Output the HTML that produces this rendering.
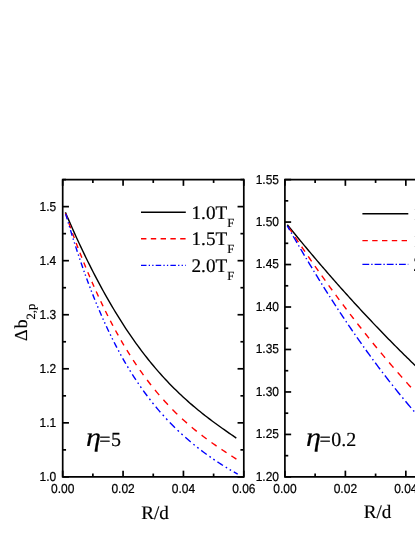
<!DOCTYPE html>
<html><head><meta charset="utf-8"><title>chart</title>
<style>html,body{margin:0;padding:0;background:#fff;}svg{display:block;transform:translateZ(0);will-change:transform}</style></head>
<body><svg width="415" height="537" viewBox="0 0 415 537" text-rendering="geometricPrecision">
<path d="M62.70,179.60 L243.80,179.60 M62.70,476.90 L243.80,476.90 M62.70,178.75 L62.70,477.75" stroke="#000" stroke-width="1.7" fill="none"/>
<line x1="243.80" y1="178.75" x2="243.80" y2="477.75" stroke="#000" stroke-width="1.7" />
<line x1="62.70" y1="476.90" x2="68.95" y2="476.90" stroke="#000" stroke-width="1.7" />
<line x1="243.80" y1="476.90" x2="237.55" y2="476.90" stroke="#000" stroke-width="1.7" />
<text transform="translate(56.20,480.85) scale(1,1.08)" font-family="Liberation Sans, sans-serif" font-size="12.0" text-anchor="end" stroke="#000" stroke-width="0.2" >1.0</text>
<line x1="62.70" y1="449.87" x2="66.05" y2="449.87" stroke="#000" stroke-width="1.7" />
<line x1="243.80" y1="449.87" x2="240.45" y2="449.87" stroke="#000" stroke-width="1.7" />
<line x1="62.70" y1="422.85" x2="68.95" y2="422.85" stroke="#000" stroke-width="1.7" />
<line x1="243.80" y1="422.85" x2="237.55" y2="422.85" stroke="#000" stroke-width="1.7" />
<text transform="translate(56.20,426.80) scale(1,1.08)" font-family="Liberation Sans, sans-serif" font-size="12.0" text-anchor="end" stroke="#000" stroke-width="0.2" >1.1</text>
<line x1="62.70" y1="395.82" x2="66.05" y2="395.82" stroke="#000" stroke-width="1.7" />
<line x1="243.80" y1="395.82" x2="240.45" y2="395.82" stroke="#000" stroke-width="1.7" />
<line x1="62.70" y1="368.79" x2="68.95" y2="368.79" stroke="#000" stroke-width="1.7" />
<line x1="243.80" y1="368.79" x2="237.55" y2="368.79" stroke="#000" stroke-width="1.7" />
<text transform="translate(56.20,372.74) scale(1,1.08)" font-family="Liberation Sans, sans-serif" font-size="12.0" text-anchor="end" stroke="#000" stroke-width="0.2" >1.2</text>
<line x1="62.70" y1="341.76" x2="66.05" y2="341.76" stroke="#000" stroke-width="1.7" />
<line x1="243.80" y1="341.76" x2="240.45" y2="341.76" stroke="#000" stroke-width="1.7" />
<line x1="62.70" y1="314.74" x2="68.95" y2="314.74" stroke="#000" stroke-width="1.7" />
<line x1="243.80" y1="314.74" x2="237.55" y2="314.74" stroke="#000" stroke-width="1.7" />
<text transform="translate(56.20,318.69) scale(1,1.08)" font-family="Liberation Sans, sans-serif" font-size="12.0" text-anchor="end" stroke="#000" stroke-width="0.2" >1.3</text>
<line x1="62.70" y1="287.71" x2="66.05" y2="287.71" stroke="#000" stroke-width="1.7" />
<line x1="243.80" y1="287.71" x2="240.45" y2="287.71" stroke="#000" stroke-width="1.7" />
<line x1="62.70" y1="260.68" x2="68.95" y2="260.68" stroke="#000" stroke-width="1.7" />
<line x1="243.80" y1="260.68" x2="237.55" y2="260.68" stroke="#000" stroke-width="1.7" />
<text transform="translate(56.20,264.63) scale(1,1.08)" font-family="Liberation Sans, sans-serif" font-size="12.0" text-anchor="end" stroke="#000" stroke-width="0.2" >1.4</text>
<line x1="62.70" y1="233.65" x2="66.05" y2="233.65" stroke="#000" stroke-width="1.7" />
<line x1="243.80" y1="233.65" x2="240.45" y2="233.65" stroke="#000" stroke-width="1.7" />
<line x1="62.70" y1="206.63" x2="68.95" y2="206.63" stroke="#000" stroke-width="1.7" />
<line x1="243.80" y1="206.63" x2="237.55" y2="206.63" stroke="#000" stroke-width="1.7" />
<text transform="translate(56.20,210.58) scale(1,1.08)" font-family="Liberation Sans, sans-serif" font-size="12.0" text-anchor="end" stroke="#000" stroke-width="0.2" >1.5</text>
<line x1="62.70" y1="179.60" x2="66.05" y2="179.60" stroke="#000" stroke-width="1.7" />
<line x1="243.80" y1="179.60" x2="240.45" y2="179.60" stroke="#000" stroke-width="1.7" />
<line x1="62.70" y1="476.90" x2="62.70" y2="470.65" stroke="#000" stroke-width="1.7" />
<line x1="62.70" y1="179.60" x2="62.70" y2="185.85" stroke="#000" stroke-width="1.7" />
<text transform="translate(62.70,492.90) scale(1,1.08)" font-family="Liberation Sans, sans-serif" font-size="12.0" text-anchor="middle" stroke="#000" stroke-width="0.2" >0.00</text>
<line x1="92.88" y1="476.90" x2="92.88" y2="473.55" stroke="#000" stroke-width="1.7" />
<line x1="92.88" y1="179.60" x2="92.88" y2="182.95" stroke="#000" stroke-width="1.7" />
<line x1="123.07" y1="476.90" x2="123.07" y2="470.65" stroke="#000" stroke-width="1.7" />
<line x1="123.07" y1="179.60" x2="123.07" y2="185.85" stroke="#000" stroke-width="1.7" />
<text transform="translate(123.07,492.90) scale(1,1.08)" font-family="Liberation Sans, sans-serif" font-size="12.0" text-anchor="middle" stroke="#000" stroke-width="0.2" >0.02</text>
<line x1="153.25" y1="476.90" x2="153.25" y2="473.55" stroke="#000" stroke-width="1.7" />
<line x1="153.25" y1="179.60" x2="153.25" y2="182.95" stroke="#000" stroke-width="1.7" />
<line x1="183.43" y1="476.90" x2="183.43" y2="470.65" stroke="#000" stroke-width="1.7" />
<line x1="183.43" y1="179.60" x2="183.43" y2="185.85" stroke="#000" stroke-width="1.7" />
<text transform="translate(183.43,492.90) scale(1,1.08)" font-family="Liberation Sans, sans-serif" font-size="12.0" text-anchor="middle" stroke="#000" stroke-width="0.2" >0.04</text>
<line x1="213.62" y1="476.90" x2="213.62" y2="473.55" stroke="#000" stroke-width="1.7" />
<line x1="213.62" y1="179.60" x2="213.62" y2="182.95" stroke="#000" stroke-width="1.7" />
<line x1="243.80" y1="476.90" x2="243.80" y2="470.65" stroke="#000" stroke-width="1.7" />
<line x1="243.80" y1="179.60" x2="243.80" y2="185.85" stroke="#000" stroke-width="1.7" />
<text transform="translate(243.80,492.90) scale(1,1.08)" font-family="Liberation Sans, sans-serif" font-size="12.0" text-anchor="middle" stroke="#000" stroke-width="0.2" >0.06</text>
<path d="M284.90,179.60 L420.00,179.60 M284.90,476.90 L420.00,476.90 M284.90,178.75 L284.90,477.75" stroke="#000" stroke-width="1.7" fill="none"/>
<line x1="284.90" y1="476.90" x2="291.15" y2="476.90" stroke="#000" stroke-width="1.7" />
<text transform="translate(279.00,480.85) scale(1,1.08)" font-family="Liberation Sans, sans-serif" font-size="12.0" text-anchor="end" stroke="#000" stroke-width="0.2" >1.20</text>
<line x1="284.90" y1="455.66" x2="288.25" y2="455.66" stroke="#000" stroke-width="1.7" />
<line x1="284.90" y1="434.43" x2="291.15" y2="434.43" stroke="#000" stroke-width="1.7" />
<text transform="translate(279.00,438.38) scale(1,1.08)" font-family="Liberation Sans, sans-serif" font-size="12.0" text-anchor="end" stroke="#000" stroke-width="0.2" >1.25</text>
<line x1="284.90" y1="413.19" x2="288.25" y2="413.19" stroke="#000" stroke-width="1.7" />
<line x1="284.90" y1="391.96" x2="291.15" y2="391.96" stroke="#000" stroke-width="1.7" />
<text transform="translate(279.00,395.91) scale(1,1.08)" font-family="Liberation Sans, sans-serif" font-size="12.0" text-anchor="end" stroke="#000" stroke-width="0.2" >1.30</text>
<line x1="284.90" y1="370.72" x2="288.25" y2="370.72" stroke="#000" stroke-width="1.7" />
<line x1="284.90" y1="349.49" x2="291.15" y2="349.49" stroke="#000" stroke-width="1.7" />
<text transform="translate(279.00,353.44) scale(1,1.08)" font-family="Liberation Sans, sans-serif" font-size="12.0" text-anchor="end" stroke="#000" stroke-width="0.2" >1.35</text>
<line x1="284.90" y1="328.25" x2="288.25" y2="328.25" stroke="#000" stroke-width="1.7" />
<line x1="284.90" y1="307.01" x2="291.15" y2="307.01" stroke="#000" stroke-width="1.7" />
<text transform="translate(279.00,310.96) scale(1,1.08)" font-family="Liberation Sans, sans-serif" font-size="12.0" text-anchor="end" stroke="#000" stroke-width="0.2" >1.40</text>
<line x1="284.90" y1="285.78" x2="288.25" y2="285.78" stroke="#000" stroke-width="1.7" />
<line x1="284.90" y1="264.54" x2="291.15" y2="264.54" stroke="#000" stroke-width="1.7" />
<text transform="translate(279.00,268.49) scale(1,1.08)" font-family="Liberation Sans, sans-serif" font-size="12.0" text-anchor="end" stroke="#000" stroke-width="0.2" >1.45</text>
<line x1="284.90" y1="243.31" x2="288.25" y2="243.31" stroke="#000" stroke-width="1.7" />
<line x1="284.90" y1="222.07" x2="291.15" y2="222.07" stroke="#000" stroke-width="1.7" />
<text transform="translate(279.00,226.02) scale(1,1.08)" font-family="Liberation Sans, sans-serif" font-size="12.0" text-anchor="end" stroke="#000" stroke-width="0.2" >1.50</text>
<line x1="284.90" y1="200.84" x2="288.25" y2="200.84" stroke="#000" stroke-width="1.7" />
<line x1="284.90" y1="179.60" x2="291.15" y2="179.60" stroke="#000" stroke-width="1.7" />
<text transform="translate(279.00,183.55) scale(1,1.08)" font-family="Liberation Sans, sans-serif" font-size="12.0" text-anchor="end" stroke="#000" stroke-width="0.2" >1.55</text>
<line x1="284.90" y1="476.90" x2="284.90" y2="470.65" stroke="#000" stroke-width="1.7" />
<line x1="284.90" y1="179.60" x2="284.90" y2="185.85" stroke="#000" stroke-width="1.7" />
<text transform="translate(284.90,492.90) scale(1,1.08)" font-family="Liberation Sans, sans-serif" font-size="12.0" text-anchor="middle" stroke="#000" stroke-width="0.2" >0.00</text>
<line x1="315.13" y1="476.90" x2="315.13" y2="473.55" stroke="#000" stroke-width="1.7" />
<line x1="315.13" y1="179.60" x2="315.13" y2="182.95" stroke="#000" stroke-width="1.7" />
<line x1="345.37" y1="476.90" x2="345.37" y2="470.65" stroke="#000" stroke-width="1.7" />
<line x1="345.37" y1="179.60" x2="345.37" y2="185.85" stroke="#000" stroke-width="1.7" />
<text transform="translate(345.37,492.90) scale(1,1.08)" font-family="Liberation Sans, sans-serif" font-size="12.0" text-anchor="middle" stroke="#000" stroke-width="0.2" >0.02</text>
<line x1="375.60" y1="476.90" x2="375.60" y2="473.55" stroke="#000" stroke-width="1.7" />
<line x1="375.60" y1="179.60" x2="375.60" y2="182.95" stroke="#000" stroke-width="1.7" />
<line x1="405.83" y1="476.90" x2="405.83" y2="470.65" stroke="#000" stroke-width="1.7" />
<line x1="405.83" y1="179.60" x2="405.83" y2="185.85" stroke="#000" stroke-width="1.7" />
<text transform="translate(405.83,492.90) scale(1,1.08)" font-family="Liberation Sans, sans-serif" font-size="12.0" text-anchor="middle" stroke="#000" stroke-width="0.2" >0.04</text>
<path d="M65.40,212.37 L67.13,216.41 L68.85,220.40 L70.58,224.34 L72.31,228.25 L74.03,232.11 L75.76,235.93 L77.48,239.70 L79.21,243.43 L80.94,247.12 L82.66,250.77 L84.39,254.37 L86.12,257.94 L87.84,261.45 L89.57,264.93 L91.29,268.37 L93.02,271.76 L94.75,275.11 L96.47,278.42 L98.20,281.69 L99.93,284.91 L101.65,288.10 L103.38,291.24 L105.10,294.35 L106.83,297.41 L108.56,300.43 L110.28,303.42 L112.01,306.36 L113.74,309.26 L115.46,312.13 L117.19,314.95 L118.91,317.74 L120.64,320.49 L122.37,323.20 L124.09,325.87 L125.82,328.51 L127.55,331.10 L129.27,333.66 L131.00,336.19 L132.73,338.67 L134.45,341.12 L136.18,343.54 L137.90,345.92 L139.63,348.26 L141.36,350.57 L143.08,352.85 L144.81,355.09 L146.54,357.30 L148.26,359.48 L149.99,361.62 L151.71,363.73 L153.44,365.81 L155.17,367.85 L156.89,369.87 L158.62,371.85 L160.35,373.81 L162.07,375.73 L163.80,377.63 L165.52,379.50 L167.25,381.34 L168.98,383.15 L170.70,384.93 L172.43,386.69 L174.16,388.42 L175.88,390.12 L177.61,391.80 L179.33,393.46 L181.06,395.09 L182.79,396.69 L184.51,398.28 L186.24,399.84 L187.97,401.38 L189.69,402.90 L191.42,404.39 L193.15,405.87 L194.87,407.33 L196.60,408.76 L198.32,410.18 L200.05,411.58 L201.78,412.97 L203.50,414.34 L205.23,415.69 L206.96,417.02 L208.68,418.34 L210.41,419.65 L212.13,420.95 L213.86,422.23 L215.59,423.50 L217.31,424.76 L219.04,426.01 L220.77,427.24 L222.49,428.47 L224.22,429.69 L225.94,430.91 L227.67,432.11 L229.40,433.31 L231.12,434.51 L232.85,435.70 L234.58,436.88 L236.30,438.07" stroke="#000" stroke-width="1.4" fill="none"/>
<path d="M65.49,213.36 L67.20,218.31 L67.20,218.31 M68.94,223.27 L70.66,228.08 L70.72,228.24 M72.49,233.12 L74.21,237.78 L74.32,238.09 M76.15,242.98 L77.86,247.49 L78.04,247.94 M79.89,252.74 L81.61,257.10 L81.84,257.68 M83.78,262.53 L85.50,266.74 L85.78,267.44 M87.78,272.26 L89.50,276.32 L89.84,277.13 M91.90,281.90 L93.62,285.81 L94.05,286.78 M96.19,291.56 L97.90,295.31 L98.45,296.49 M100.71,301.32 L102.42,304.92 L103.05,306.22 M105.39,311.01 L107.11,314.45 L107.88,315.98 M110.34,320.78 L112.06,324.06 L112.94,325.73 M115.51,330.50 L117.23,333.61 L118.26,335.46 M121.03,340.33 L122.75,343.28 L123.95,345.31 M126.86,350.14 L128.58,352.92 L130.01,355.20 M133.13,360.05 L134.84,362.65 L136.47,365.09 M139.87,370.03 L141.59,372.46 L143.30,374.85 L143.47,375.08 M147.13,380.02 L148.85,382.27 L150.56,384.48 L151.05,385.10 M155.00,390.01 L156.71,392.08 L158.43,394.11 L159.23,395.05 M163.43,399.84 L165.14,401.74 L166.86,403.60 L167.95,404.76 M172.46,409.46 L174.18,411.18 L175.89,412.88 L177.29,414.24 M182.01,418.70 L183.73,420.26 L185.44,421.81 L186.96,423.15 M191.76,427.27 L193.47,428.70 L195.19,430.10 L196.76,431.38 M201.59,435.17 L203.31,436.48 L205.02,437.77 L206.65,438.99 M211.51,442.51 L213.23,443.73 L214.94,444.93 L216.60,446.08 M221.49,449.40 L223.21,450.54 L224.92,451.67 L226.55,452.74 M231.41,455.88 L233.13,456.98 L234.84,458.07 L236.41,459.06" stroke="#ff0000" stroke-width="1.4" fill="none"/>
<path d="M65.72,213.94 L67.30,219.38 M68.13,222.21 L68.50,223.47 M69.28,226.07 L69.68,227.40 M70.51,230.16 L72.21,235.67 M73.07,238.44 L73.47,239.72 M74.30,242.35 L74.71,243.62 M75.60,246.39 L77.32,251.68 L77.38,251.85 M78.27,254.54 L78.70,255.83 M79.59,258.48 L80.02,259.75 M80.97,262.53 L82.69,267.49 L82.83,267.90 M83.81,270.67 L84.27,271.96 M85.19,274.52 L85.65,275.79 M86.65,278.54 L88.38,283.18 L88.64,283.87 M89.67,286.60 L90.16,287.88 M91.13,290.42 L91.62,291.67 M92.69,294.38 L94.41,298.70 L94.84,299.77 M95.93,302.45 L96.48,303.78 M97.54,306.33 L98.09,307.63 M99.23,310.34 L100.96,314.34 L101.56,315.72 M102.77,318.45 L103.34,319.74 M104.49,322.28 L105.09,323.61 M106.33,326.28 L108.05,329.96 L108.88,331.70 M110.18,334.38 L110.84,335.73 M112.07,338.23 L112.73,339.56 M114.11,342.28 L115.83,345.63 L116.90,347.66 M118.33,350.36 L119.05,351.69 M120.46,354.27 L121.18,355.57 M122.70,358.29 L124.42,361.31 L125.83,363.73 M127.44,366.44 L128.24,367.78 M129.79,370.33 L130.63,371.68 M132.32,374.38 L134.04,377.07 L135.77,379.71 L135.88,379.89 M137.69,382.60 L138.61,383.95 M140.36,386.50 L141.31,387.85 M143.26,390.60 L144.99,392.97 L146.71,395.29 L147.31,396.09 M149.38,398.80 L150.44,400.17 M152.45,402.72 L153.55,404.07 M155.76,406.77 L157.48,408.83 L159.20,410.85 L160.35,412.18 M162.71,414.84 L163.89,416.15 M166.13,418.59 L167.36,419.91 M169.83,422.50 L171.55,424.27 L173.28,426.00 L175.00,427.71 L175.00,427.71 M177.59,430.21 L178.91,431.46 M181.38,433.76 L182.67,434.94 M185.31,437.31 L187.04,438.82 L188.76,440.30 L190.48,441.77 L190.71,441.96 M193.38,444.17 L194.70,445.25 M197.23,447.27 L198.58,448.33 M201.25,450.39 L202.98,451.69 L204.70,452.97 L206.42,454.23 L206.74,454.46 M209.44,456.40 L210.79,457.35 M213.34,459.12 L214.72,460.06 M217.45,461.88 L219.17,463.01 L220.90,464.13 L222.62,465.23 L222.99,465.46 M225.72,467.16 L227.10,468.01 M229.69,469.57 L231.04,470.37 M233.79,471.97 L235.52,472.96 L237.24,473.93 L237.70,474.18" stroke="#0000ff" stroke-width="1.4" fill="none"/>
<path d="M287.30,224.70 L288.73,226.47 L290.15,228.23 L291.58,229.98 L293.01,231.74 L294.44,233.48 L295.86,235.23 L297.29,236.96 L298.72,238.70 L300.15,240.43 L301.57,242.15 L303.00,243.87 L304.43,245.59 L305.85,247.30 L307.28,249.01 L308.71,250.71 L310.14,252.41 L311.56,254.11 L312.99,255.80 L314.42,257.48 L315.84,259.17 L317.27,260.84 L318.70,262.52 L320.13,264.18 L321.55,265.85 L322.98,267.51 L324.41,269.16 L325.84,270.82 L327.26,272.46 L328.69,274.10 L330.12,275.74 L331.54,277.38 L332.97,279.01 L334.40,280.63 L335.83,282.25 L337.25,283.87 L338.68,285.48 L340.11,287.09 L341.54,288.69 L342.96,290.29 L344.39,291.88 L345.82,293.47 L347.24,295.06 L348.67,296.64 L350.10,298.22 L351.53,299.79 L352.95,301.36 L354.38,302.92 L355.81,304.48 L357.23,306.04 L358.66,307.59 L360.09,309.13 L361.52,310.68 L362.94,312.21 L364.37,313.75 L365.80,315.28 L367.23,316.80 L368.65,318.32 L370.08,319.84 L371.51,321.35 L372.93,322.86 L374.36,324.36 L375.79,325.86 L377.22,327.35 L378.64,328.84 L380.07,330.33 L381.50,331.81 L382.92,333.28 L384.35,334.76 L385.78,336.22 L387.21,337.69 L388.63,339.15 L390.06,340.60 L391.49,342.05 L392.92,343.50 L394.34,344.94 L395.77,346.38 L397.20,347.81 L398.62,349.24 L400.05,350.66 L401.48,352.08 L402.91,353.50 L404.33,354.91 L405.76,356.32 L407.19,357.72 L408.62,359.12 L410.04,360.51 L411.47,361.90 L412.90,363.29 L414.32,364.67 L415.75,366.04 L417.18,367.41 L418.61,368.78 L420.03,370.14 L421.46,371.50 L422.89,372.86 L424.31,374.21 L425.74,375.55 L427.17,376.90 L428.60,378.23" stroke="#000" stroke-width="1.4" fill="none"/>
<path d="M288.68,227.38 L290.11,229.55 L291.53,231.70 L291.96,232.35 M295.10,237.06 L296.53,239.20 L297.96,241.32 L298.43,242.03 M301.62,246.74 L303.05,248.84 L304.47,250.93 L305.00,251.70 M308.23,256.41 L309.66,258.48 L311.09,260.54 L311.66,261.36 M314.94,266.07 L316.37,268.10 L317.80,270.13 L318.41,271.01 M321.74,275.70 L323.17,277.70 L324.60,279.70 L325.29,280.66 M328.67,285.34 L330.09,287.31 L331.52,289.27 L332.23,290.25 M335.68,294.95 L337.11,296.88 L338.54,298.80 L339.30,299.83 M342.80,304.51 L344.22,306.40 L345.65,308.29 L346.48,309.39 M350.03,314.05 L351.45,315.91 L352.88,317.77 L353.79,318.94 M357.42,323.63 L358.85,325.45 L360.28,327.27 L361.28,328.54 M365.01,333.25 L366.44,335.04 L367.87,336.82 L368.99,338.21 M372.82,342.94 L374.24,344.69 L375.67,346.44 L376.91,347.94 M380.86,352.71 L382.28,354.42 L383.71,356.13 L385.07,357.74 M389.13,362.54 L390.56,364.21 L391.99,365.87 L393.42,367.53 L393.46,367.58 M397.65,372.40 L399.08,374.03 L400.50,375.65 L401.93,377.26 L402.12,377.48 M406.40,382.28 L407.83,383.86 L409.26,385.44 L410.68,387.01 L410.97,387.32 M415.35,392.09 L416.77,393.64 L418.20,395.17 L419.63,396.70 L420.01,397.10 M424.46,401.81 L425.88,403.31 L427.31,404.80 L428.74,406.28 L429.22,406.78" stroke="#ff0000" stroke-width="1.4" fill="none"/>
<path d="M287.30,225.86 L288.73,228.38 L289.68,230.06 M291.13,232.60 L291.80,233.77 M293.22,236.26 L294.65,238.74 L296.08,241.21 L297.01,242.81 M298.48,245.34 L299.15,246.48 M300.62,249.00 L302.05,251.43 L303.48,253.85 L304.47,255.54 M305.95,258.02 L306.66,259.22 M308.16,261.72 L309.59,264.10 L311.02,266.47 L312.09,268.23 M313.61,270.74 L314.32,271.91 M315.84,274.40 L317.27,276.72 L318.70,279.04 L319.84,280.88 M321.41,283.41 L322.12,284.55 M323.69,287.06 L325.12,289.33 L326.55,291.59 L327.79,293.54 M329.38,296.04 L330.12,297.19 M331.73,299.71 L333.16,301.93 L334.59,304.13 L335.90,306.14 M337.54,308.66 L338.30,309.82 M339.92,312.27 L341.34,314.43 L342.77,316.58 L344.20,318.72 L344.20,318.72 M345.86,321.20 L346.65,322.37 M348.31,324.83 L349.74,326.93 L351.17,329.02 L352.60,331.10 L352.72,331.27 M354.43,333.75 L355.21,334.89 M356.95,337.38 L358.38,339.42 L359.80,341.45 L361.23,343.47 L361.49,343.84 M363.28,346.35 L364.11,347.52 M365.89,350.00 L367.32,351.98 L368.75,353.95 L370.17,355.91 L370.63,356.53 M372.48,359.06 L373.34,360.22 M375.22,362.75 L376.65,364.67 L378.07,366.57 L379.50,368.47 L380.12,369.28 M382.04,371.82 L382.95,373.00 M384.90,375.55 L386.33,377.39 L387.75,379.23 L389.18,381.06 L390.01,382.12 M392.04,384.69 L392.96,385.86 M394.99,388.39 L396.41,390.17 L397.84,391.94 L399.27,393.70 L400.34,395.01 M402.43,397.56 L403.41,398.74 M405.52,401.29 L406.95,402.99 L408.38,404.69 L409.80,406.38 L411.04,407.83 M413.21,410.35 L414.21,411.51 M416.39,414.03 L417.82,415.66 L419.25,417.28 L420.68,418.89 L422.10,420.49 L422.10,420.49 M424.31,422.96 L425.36,424.11 M427.60,426.57 L429.02,428.12 L430.00,429.18" stroke="#0000ff" stroke-width="1.4" fill="none"/>
<line x1="141.00" y1="212.20" x2="185.80" y2="212.20" stroke="#000" stroke-width="1.35" />
<text x="191.50" y="218.80" font-family="Liberation Serif, serif" stroke="#000" stroke-width="0.18" font-size="19.2">1.0T<tspan font-size="12.6" dy="7.7">F</tspan></text>
<line x1="141.00" y1="238.70" x2="185.80" y2="238.70" stroke="#ff0000" stroke-width="1.35" stroke-dasharray="5.4 4.4"/>
<text x="191.50" y="245.30" font-family="Liberation Serif, serif" stroke="#000" stroke-width="0.18" font-size="19.2">1.5T<tspan font-size="12.6" dy="7.7">F</tspan></text>
<line x1="141.00" y1="265.40" x2="185.80" y2="265.40" stroke="#0000ff" stroke-width="1.35" stroke-dasharray="5.5 2.2 1.3 2.2 1.3 2.2"/>
<text x="191.50" y="272.00" font-family="Liberation Serif, serif" stroke="#000" stroke-width="0.18" font-size="19.2">2.0T<tspan font-size="12.6" dy="7.7">F</tspan></text>
<line x1="362.40" y1="213.70" x2="408.30" y2="213.70" stroke="#000" stroke-width="1.35" />
<text x="413.20" y="220.30" font-family="Liberation Serif, serif" stroke="#000" stroke-width="0.18" font-size="19.2">1.0T<tspan font-size="12.6" dy="7.7">F</tspan></text>
<line x1="362.40" y1="240.60" x2="408.30" y2="240.60" stroke="#ff0000" stroke-width="1.35" stroke-dasharray="5.4 4.4"/>
<text x="413.20" y="247.20" font-family="Liberation Serif, serif" stroke="#000" stroke-width="0.18" font-size="19.2">1.5T<tspan font-size="12.6" dy="7.7">F</tspan></text>
<line x1="362.40" y1="264.40" x2="408.30" y2="264.40" stroke="#0000ff" stroke-width="1.35" stroke-dasharray="6.8 2 1.4 2"/>
<text x="413.20" y="271.00" font-family="Liberation Serif, serif" stroke="#000" stroke-width="0.18" font-size="19.2">2.0T<tspan font-size="12.6" dy="7.7">F</tspan></text>
<text x="155.0" y="518.6" font-family="Liberation Serif, serif" stroke="#000" stroke-width="0.18" font-size="19.1" text-anchor="middle">R/d</text>
<text x="377.6" y="518.0" font-family="Liberation Serif, serif" stroke="#000" stroke-width="0.18" font-size="19.1" text-anchor="middle">R/d</text>
<text transform="translate(26.7,341.1) rotate(-90)" font-family="Liberation Serif, serif" stroke="#000" stroke-width="0.18" font-size="18.2">&#916;<tspan dx="0.8">b</tspan><tspan font-size="12.6" dy="8">2,p</tspan></text>
<text transform="translate(85.90,446.1) scale(1.12,1)" font-family="Liberation Serif, serif" stroke="#000" stroke-width="0.18" font-size="27" font-style="italic">&#951;</text>
<text x="99.20" y="446.1" font-family="Liberation Serif, serif" stroke="#000" stroke-width="0.18" font-size="20.0">=<tspan dx="0.5">5</tspan></text>
<text transform="translate(306.10,446.1) scale(1.12,1)" font-family="Liberation Serif, serif" stroke="#000" stroke-width="0.18" font-size="27" font-style="italic">&#951;</text>
<text x="319.40" y="446.1" font-family="Liberation Serif, serif" stroke="#000" stroke-width="0.18" font-size="20.0">=<tspan dx="0.5">0.2</tspan></text>
</svg></body></html>
